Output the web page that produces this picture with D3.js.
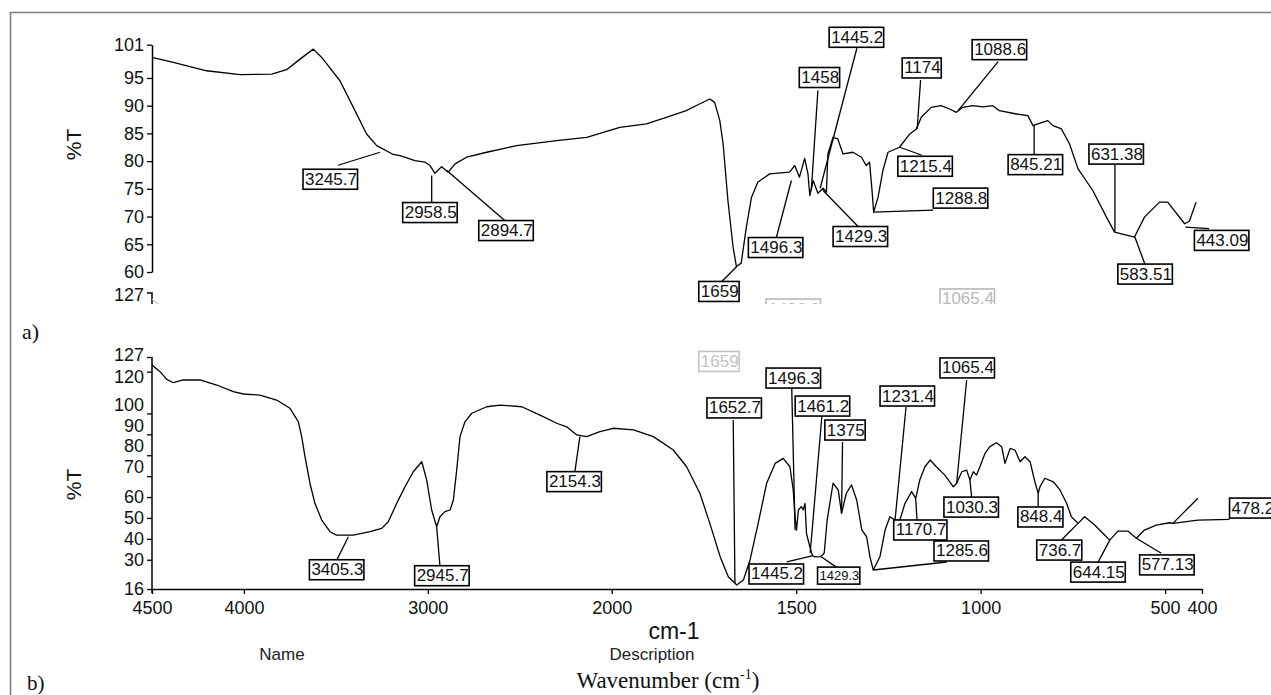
<!DOCTYPE html>
<html><head><meta charset="utf-8">
<script src="https://cdn.jsdelivr.net/npm/d3@7"></script>
<style>
html,body{margin:0;padding:0;background:#fff;}
svg{display:block;}
</style></head><body>
<svg id="chart" width="1271" height="695"></svg>
<script>
// ---------- DATA ----------
const xTickValues = [4500, 4000, 3000, 2000, 1500, 1000, 500, 400];
const topTickValues = [101, 95, 90, 85, 80, 75, 70, 65, 60];
const bottomTickValues = [127, 120, 100, 90, 80, 70, 60, 50, 40, 30, 16];

// (a) spectrum
const topWavenumber = [4500,4384,4203,4021,3849,3768,3695,3623,3577,3478,3405,3333,3278,3188,3151,3070,3015,2988,2961,2925,2889,2852,2789,2680,2517,2299,2136,1978,1906,1852,1798,1762,1734,1721,1707,1698,1685,1671,1662,1649,1635,1621,1604,1572,1518,1504,1491,1477,1468,1463,1454,1441,1427,1418,1414,1400,1387,1373,1346,1323,1310,1301,1294,1290,1278,1265,1251,1220,1192,1174,1161,1134,1107,1084,1066,1048,1021,994,967,949,903,872,858,845,818,804,781,759,736,696,659,637,583,556,515,493,447,434,416];
const topTransmittance = [98.7,97.8,96.3,95.6,95.7,96.5,98.4,100.2,98.7,94.5,89.7,84.9,82.8,81.2,81.0,80.1,79.8,79.2,77.8,79.0,78.0,79.5,80.7,81.6,82.8,83.7,84.3,86.1,86.7,87.9,89.1,90.3,91.2,90.6,87.3,83.1,72.9,64.5,61.0,61.6,68.1,73.5,76.2,77.7,78.0,79.2,77.1,80.5,77.7,73.8,76.5,74.2,75.1,74.4,81.3,84.3,84.0,81.3,81.6,80.7,79.2,79.8,74.4,70.8,73.5,78.3,81.6,82.5,84.9,85.8,87.9,89.7,90.0,89.4,88.8,89.7,90.0,89.8,90.0,89.1,88.5,88.2,86.4,86.7,87.3,86.4,85.8,83.1,78.6,74.7,69.9,67.2,66.3,69.9,72.6,72.6,68.7,69.2,72.6];

// (b) spectrum
const bottomWavenumber = [4500,4456,4420,4384,4330,4239,4148,4058,4003,3913,3822,3750,3704,3686,3668,3641,3614,3577,3532,3496,3405,3314,3251,3215,3169,3151,3124,3079,3033,3006,2979,2952,2934,2907,2879,2861,2843,2825,2798,2761,2680,2607,2489,2390,2299,2245,2190,2136,2064,1996,1941,1887,1833,1797,1761,1734,1706,1684,1661,1643,1625,1603,1580,1557,1535,1517,1508,1503,1499,1494,1486,1481,1476,1472,1463,1458,1455,1449,1433,1424,1416,1400,1386,1377,1364,1350,1336,1322,1309,1300,1291,1273,1259,1246,1232,1219,1205,1187,1176,1165,1151,1137,1120,1097,1074,1065,1051,1038,1029,1020,1011,1002,988,975,957,943,934,920,907,893,880,866,852,844,839,826,803,785,767,754,736,718,691,664,650,628,601,578,556,524,488,479,452,411];
const bottomTransmittance = [123.2,120.0,116.3,114.7,116.0,116.0,113.6,110.4,109.3,108.8,106.4,102.5,96.0,88.9,79.3,66.6,57.0,49.0,43.4,41.8,41.8,43.4,45.0,48.2,57.0,60.2,64.9,72.1,76.9,68.1,53.8,45.8,50.6,53.0,53.8,58.6,72.9,88.9,96.0,100.1,103.2,104.0,103.2,99.2,95.3,93.6,89.7,88.9,91.3,92.9,92.1,88.9,82.5,74.5,61.8,47.4,31.4,21.9,17.9,20.3,29.9,47.4,66.6,76.1,78.5,74.5,63.4,50.6,44.2,53.8,55.4,53.8,57.0,42.6,36.2,33.1,31.8,31.4,31.5,33.2,49.0,66.6,63.4,52.2,61.8,65.8,58.6,44.2,41.0,31.4,25.1,31.4,44.2,50.6,49.0,49.0,57.0,62.6,59.4,68.1,74.5,77.7,74.5,70.5,64.9,66.6,72.1,72.9,68.1,72.1,70.5,74.5,80.9,84.1,86.0,84.1,76.1,83.3,82.5,76.9,79.3,76.9,66.6,61.8,65.0,69.0,67.3,63.4,57.0,50.6,47.4,50.6,46.6,41.8,39.4,43.7,43.7,40.3,44.2,46.6,47.7,47.4,52.2,59.4];

// peak labels (text, anchor wavenumber, anchor %T)
const topPeakText = ["3245.7","2958.5","2894.7","1659","1496.3","1458","1445.2","1429.3","1288.8","1215.4","1174","1088.6","845.21","631.38","583.51","443.09"];
const topPeakWn = [3260,2979,2897,1661,1513,1459,1435,1427,1291,1219,1172,1061,855,636,582,445];
const topPeakT = [81.6,77.4,78.3,61.0,76.5,74.7,75.1,74.7,70.8,82.5,85.8,89.1,86.4,67.2,66.3,68.1];

const bottomPeakText = ["3405.3","2945.7","2154.3","1652.7","1496.3","1461.2","1375","1445.2","1429.3","1231.4","1065.4","1170.7","1285.6","1030.3","848.4","736.7","644.15","577.13","478.2"];
const bottomPeakWn = [3432,2952,2173,1666,1503,1462,1377,1457,1432,1232,1065,1176,1291,1029,844,736,650,578,479];
const bottomPeakT = [41.0,45.8,88.9,18.9,44.2,33.2,52.2,31.8,31.4,49.0,66.6,59.4,25.1,68.1,61.8,47.4,39.4,40.3,47.4];

// ---------- LAYOUT (label box offsets from anchor, leader bends) ----------
const topLabelLayout = [
  {bx:-77,by:17,lead:[[-42,13]]},
  {bx:-29,by:27,lead:[[0,27]]},
  {bx:32,by:50,lead:[[58,50]]},
  {bx:-38,by:15,lead:[[-15,15]]},
  {bx:-43,by:57,lead:[[-15,57]]},
  {bx:-12,by:-123,lead:[[6.6,-100]]},
  {bx:9,by:-161,lead:[[36.7,-140]]},
  {bx:10,by:36,lead:[[35,36]]},
  {bx:60,by:-24,lead:[[60,-2]]},
  {bx:-2,by:9,lead:[[22,8]]},
  {bx:-15,by:-71,lead:[[3.4,-49]]},
  {bx:14,by:-71,lead:[[40,-49]]},
  {bx:-26,by:29,lead:[[0,29]]},
  {bx:-26,by:-88,lead:[[0,-67]]},
  {bx:-17,by:27,lead:[[10,27]]},
  {bx:9,by:3.3,lead:[[23.7,1.6]]}
];
const bottomLabelLayout = [
  {bx:-39,by:23,lead:[[-11.6,23.3]]},
  {bx:-22,by:39,lead:[[3.3,39.3]]},
  {bx:-33,by:35,lead:[[-5,35]]},
  {bx:-28,by:-185,lead:[[-1.7,-163]]},
  {bx:-29,by:-162,lead:[[-3.3,-141]]},
  {bx:-15,by:-157,lead:[[11.7,-137]]},
  {bx:-16.7,by:-93.3,lead:[[1,-71.3]]},
  {bx:-63,by:8,lead:[[-25.3,6]]},
  {bx:-3.7,by:10.3,lead:[[15,10.3]],small:true},
  {bx:-15,by:-134,lead:[[11,-113]]},
  {bx:-16.7,by:-125.3,lead:[[10,-103.3]]},
  {bx:-22,by:21.7,lead:[[1.3,21.7]]},
  {bx:60.7,by:-29,lead:[[73.4,-8]]},
  {bx:-26,by:17,lead:[[1.7,17]]},
  {bx:-20.3,by:13.7,lead:[[0,13.7]]},
  {bx:-41.3,by:16.7,lead:[[-16.6,16.7]]},
  {bx:-39,by:22,lead:[[-11.7,22]]},
  {bx:3.3,by:16.7,lead:[[25,15]]},
  {bx:56.7,by:-25.3,lead:[[25,-3.3],[56.7,-4]]}
];

// ---------- DRAW ----------
const SANS = "'Liberation Sans', Arial, sans-serif";
const SERIF = "'Liberation Serif', 'Times New Roman', serif";
const svg = d3.select("#chart");

const x = d3.scaleLinear().domain([4500, 2000, 400]).range([152, 611.7, 1202]);
const yTop = d3.scaleLinear().domain([60, 101]).range([272, 44.7]);
const yBot = d3.scaleLinear().domain([16, 127]).range([589, 357]);

// figure frame
svg.append("path").attr("d", "M10.5,695 V12.5 H1271")
  .attr("fill", "none").attr("stroke", "#7d7d7d").attr("stroke-width", 1.6);

function styleAxis(g, fs) {
  g.attr("font-family", SANS).attr("font-size", fs);
  g.select(".domain").attr("stroke", "#000").attr("stroke-width", 1.5);
  g.selectAll(".tick line").attr("stroke", "#000").attr("stroke-width", 1.3);
  g.selectAll(".tick text").attr("fill", "#111");
}

// top y axis
const gTop = svg.append("g").attr("transform", "translate(152,0)")
  .call(d3.axisLeft(yTop).tickValues(topTickValues).tickSize(5).tickSizeOuter(0).tickPadding(3).tickFormat(d3.format("d")));
styleAxis(gTop, 18);

// bottom y axis
const gBot = svg.append("g").attr("transform", "translate(152,0)")
  .call(d3.axisLeft(yBot).tickValues(bottomTickValues).tickSize(5).tickSizeOuter(0).tickPadding(3).tickFormat(d3.format("d")));
styleAxis(gBot, 18);
gBot.selectAll(".tick text").attr("dy", d => (d >= 70 && d <= 100) ? "-0.18em" : (d === 127 ? "0.22em" : (d === 120 ? "0.62em" : "0.32em")));
gBot.select(".domain").attr("d", "M0," + yBot(127) + "V" + (yBot(16) + 4));

// x axis
const gX = svg.append("g").attr("transform", "translate(0," + yBot(16) + ")")
  .call(d3.axisBottom(x).tickValues(xTickValues).tickSize(5).tickSizeOuter(0).tickPadding(7).tickFormat(d3.format("d")));
styleAxis(gX, 18);

// curves
const lineTop = d3.line().x(d => x(d[0])).y(d => yTop(d[1]));
const lineBot = d3.line().x(d => x(d[0])).y(d => yBot(d[1]));
svg.append("path").datum(d3.zip(topWavenumber, topTransmittance))
  .attr("d", lineTop).attr("fill", "none").attr("stroke", "#000").attr("stroke-width", 1.3).attr("stroke-linejoin", "round");
svg.append("path").datum(d3.zip(bottomWavenumber, bottomTransmittance))
  .attr("d", lineBot).attr("fill", "none").attr("stroke", "#000").attr("stroke-width", 1.3).attr("stroke-linejoin", "round");

// peak label drawing
function drawLabels(parent, texts, wns, vals, layout, yScale, color, shiftY) {
  texts.forEach((t, i) => {
    const L = layout[i];
    const ax = x(wns[i]), ay = yScale(vals[i]) + (shiftY || 0);
    const pts = [[ax, ay]].concat(L.lead.map(p => [ax + p[0], ay + p[1]]));
    if (!shiftY) {
      parent.append("path").attr("d", d3.line()(pts)).attr("fill", "none")
        .attr("stroke", color).attr("stroke-width", 1.3);
    }
    const fs = L.small ? 13 : 17;
    const h = L.small ? 17 : 20;
    const g = parent.append("g").attr("transform", "translate(" + (ax + L.bx) + "," + (ay + L.by) + ")");
    const rect = g.append("rect").attr("fill", "#fff").attr("stroke", color).attr("stroke-width", 1.6).attr("height", h);
    const txt = g.append("text").attr("x", 2).attr("y", L.small ? 13 : 15.5)
      .attr("font-family", SANS).attr("font-size", fs).attr("fill", color === "#000" ? "#111" : color).text(t);
    const w = txt.node().getComputedTextLength();
    rect.attr("width", w + 2.5);
  });
}
drawLabels(svg, topPeakText, topPeakWn, topPeakT, topLabelLayout, yTop, "#000");
drawLabels(svg, bottomPeakText, bottomPeakWn, bottomPeakT, bottomLabelLayout, yBot, "#000");

// faint ghost copies left by the panel overlay
const clipTop = svg.append("clipPath").attr("id", "clipTop");
clipTop.append("rect").attr("x", 0).attr("y", 0).attr("width", 1271).attr("height", 304);
const ghostTop = svg.append("g").attr("clip-path", "url(#clipTop)");
const ghostIdx = [4, 10];
drawLabels(ghostTop, ghostIdx.map(i => bottomPeakText[i]), ghostIdx.map(i => bottomPeakWn[i]),
  ghostIdx.map(i => bottomPeakT[i]), ghostIdx.map(i => bottomLabelLayout[i]), yBot, "#b8b8b8", -69);
drawLabels(svg, [topPeakText[3]], [topPeakWn[3]], [topPeakT[3]], [topLabelLayout[3]], yTop, "#c4c4c4", 70);

// ghost "127" tick under the top axis
const gy = yBot(127) - 62;
ghostTop.append("text").attr("x", 144).attr("y", gy).attr("dy", "0.32em").attr("text-anchor", "end")
  .attr("font-family", SANS).attr("font-size", 18).attr("fill", "#111").text("127");
ghostTop.append("path").attr("d", "M147," + (gy - 2) + "H152V310").attr("fill", "none").attr("stroke", "#000").attr("stroke-width", 1.5);
ghostTop.append("path").datum(d3.zip(bottomWavenumber.slice(0, 3), bottomTransmittance.slice(0, 3)))
  .attr("d", d3.line().x(d => x(d[0])).y(d => yBot(d[1]) - 66)).attr("fill", "none").attr("stroke", "#c8c8c8").attr("stroke-width", 1.2);

// axis titles
svg.append("text").attr("transform", "translate(81," + yTop(83) + ") rotate(-90)").attr("text-anchor", "middle")
  .attr("font-family", SANS).attr("font-size", 21).attr("fill", "#111").text("%T");
svg.append("text").attr("transform", "translate(81," + yBot(66) + ") rotate(-90)").attr("text-anchor", "middle")
  .attr("font-family", SANS).attr("font-size", 21).attr("fill", "#111").text("%T");

svg.append("text").attr("x", 674).attr("y", 639).attr("text-anchor", "middle")
  .attr("font-family", SANS).attr("font-size", 23).attr("fill", "#111").text("cm-1");
svg.append("text").attr("x", 652).attr("y", 660).attr("text-anchor", "middle")
  .attr("font-family", SANS).attr("font-size", 17).attr("fill", "#222").text("Description");
svg.append("text").attr("x", 282).attr("y", 660).attr("text-anchor", "middle")
  .attr("font-family", SANS).attr("font-size", 17).attr("fill", "#222").text("Name");

const wv = svg.append("text").attr("x", 668).attr("y", 688).attr("text-anchor", "middle")
  .attr("font-family", SERIF).attr("font-size", 23).attr("fill", "#111");
wv.append("tspan").text("Wavenumber (cm");
wv.append("tspan").attr("dy", -9).attr("font-size", 14).text("-1");
wv.append("tspan").attr("dy", 9).text(")");

svg.append("text").attr("x", 22).attr("y", 339).attr("font-family", SERIF).attr("font-size", 22).attr("fill", "#111").text("a)");
svg.append("text").attr("x", 27).attr("y", 690).attr("font-family", SERIF).attr("font-size", 21).attr("fill", "#111").text("b)");
</script>
</body></html>
